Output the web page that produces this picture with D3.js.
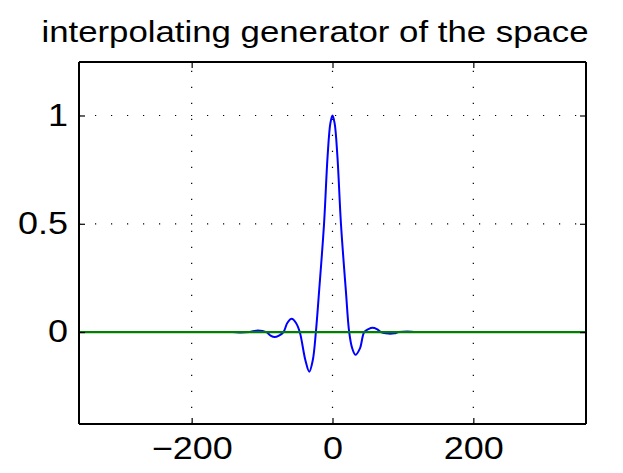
<!DOCTYPE html>
<html><head><meta charset="utf-8">
<script src="https://cdn.jsdelivr.net/npm/d3@7"></script>
<style>html,body{margin:0;padding:0;background:#fff;}svg{display:block;}</style>
</head><body>
<svg id="c" width="623" height="473"></svg>
<script>
// Data
const titleText = "interpolating generator of the space";
const xTicks = [-200, 0, 200];
const yTicks = [0, 0.5, 1];
const xDomain = [-360, 360];
const yDomain = [-0.4245, 1.247];
const genX = [-360, -160, -142, -130, -118, -106, -94, -88, -82, -76, -69.6, -64, -58, -52, -46.5, -38.5, -33, -28, -23.6, -19, -12, -7, -3, 0, 3, 7, 12, 19, 23.7, 28, 32.5, 39, 45, 51, 57, 63, 69, 76, 82, 88, 94, 106, 118, 130, 160, 360];
const genY = [0, 0, 0.0, -0.002, 0.0, 0.007, 0.0, -0.016, -0.023, -0.016, 0.0, 0.043, 0.061, 0.043, 0.0, -0.13, -0.183, -0.13, 0.0, 0.19, 0.5, 0.81, 0.965, 1.0, 0.965, 0.81, 0.5, 0.19, 0.0, -0.075, -0.105, -0.075, 0.0, 0.014, 0.020, 0.014, 0.0, -0.006, -0.008, -0.006, 0.0, 0.003, 0.0, 0, 0, 0];
const zeroX = [-360, 360];
const zeroY = [0, 0];

const svg = d3.select("#c");
const m = {l: 79, r: 586, t: 62, b: 424};
const x = d3.scaleLinear().domain(xDomain).range([m.l, m.r]);
const y = d3.scaleLinear().domain(yDomain).range([m.b, m.t]);
const font = "'Liberation Sans', Arial, Helvetica, sans-serif";
const sx = 1.16; // horizontal stretch of the reference's text

// grid
const grid = svg.append("g").attr("stroke", "#000").attr("stroke-width", 1.2).attr("stroke-dasharray", "1.2,14.8");
xTicks.forEach(v => grid.append("line").attr("x1", x(v)).attr("x2", x(v)).attr("y1", m.b).attr("y2", m.t));
yTicks.forEach(v => grid.append("line").attr("x1", m.l).attr("x2", m.r).attr("y1", y(v)).attr("y2", y(v)));

// curves
const pts = genX.map((d, i) => [d, genY[i]]);
const line = d3.line().x(d => x(d[0])).y(d => y(d[1])).curve(d3.curveCatmullRom.alpha(0.5));
svg.append("path").attr("d", line(pts)).attr("fill", "none").attr("stroke", "#0000ff").attr("stroke-width", 2);
const zpts = zeroX.map((d, i) => [d, zeroY[i]]);
svg.append("path").attr("d", d3.line().x(d => x(d[0])).y(d => y(d[1]))(zpts)).attr("fill", "none").attr("stroke", "#008000").attr("stroke-width", 2.2);

// axes (box, ticks inward)
const fmtX = d => d < 0 ? "\u2212" + Math.abs(d) : String(d);
const axB = d3.axisBottom(x).tickValues(xTicks).tickSize(-6).tickFormat(fmtX).tickPadding(13);
const axT = d3.axisTop(x).tickValues(xTicks).tickSize(-6).tickFormat("");
const axL = d3.axisLeft(y).tickValues(yTicks).tickSize(-6).tickFormat(d3.format("~g")).tickPadding(14);
const axR = d3.axisRight(y).tickValues(yTicks).tickSize(-6).tickFormat("");
function style(g) {
  g.select(".domain").attr("stroke", "#000").attr("stroke-width", 2);
  g.selectAll(".tick line").attr("stroke", "#000").attr("stroke-width", 1.2);
  g.selectAll("text").attr("font-family", font).attr("font-size", 31).attr("fill", "#000");
}
svg.append("g").attr("transform", `translate(0,${m.b})`).call(axB).call(style)
  .call(g => g.select(".domain").attr("d", `M${m.l},0H${m.r}`))
  .call(g => g.selectAll(".tick text").attr("transform", `scale(${sx},1)`));
svg.append("g").attr("transform", `translate(0,${m.t})`).call(axT).call(style).call(g => g.select(".domain").attr("d", `M${m.l},0H${m.r}`));
svg.append("g").attr("transform", `translate(${m.l},0)`).call(axL).call(style)
  .call(g => g.select(".domain").attr("d", `M0,${m.b}V${m.t}`))
  .call(g => g.selectAll(".tick text").attr("x", -11 / sx).attr("transform", `scale(${sx},1)`));
svg.append("g").attr("transform", `translate(${m.r},0)`).call(axR).call(style).call(g => g.select(".domain").attr("d", `M0,${m.b}V${m.t}`));

// title
svg.append("text").attr("transform", `translate(315,42) scale(${sx},1)`).attr("text-anchor", "middle")
  .attr("font-family", font).attr("font-size", 30).attr("fill", "#000").text(titleText);
</script>
</body></html>
